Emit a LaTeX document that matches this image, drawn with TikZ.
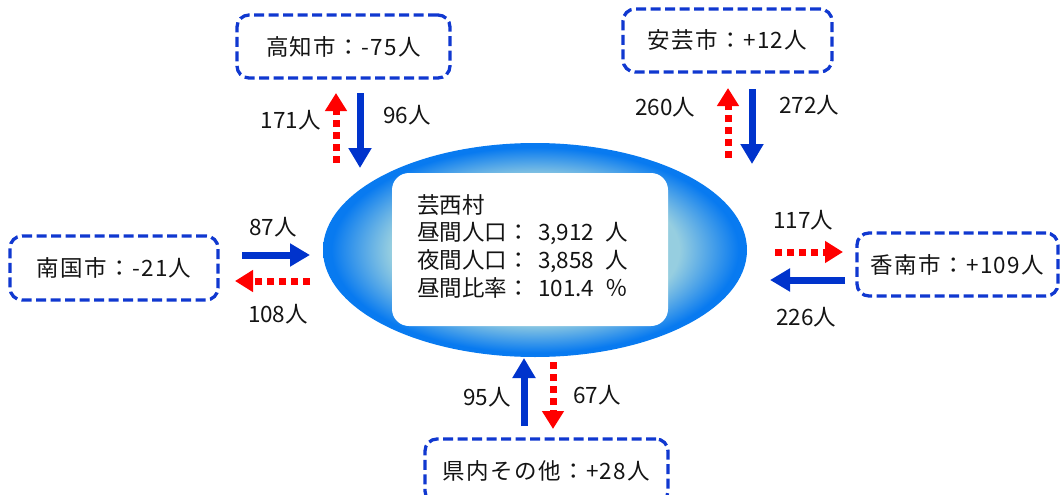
\documentclass[tikz,border=0pt]{standalone}
\usepackage{fontspec}
\setmainfont{Noto Sans CJK JP}
\newfontfamily\jp{Noto Sans CJK JP}
\newfontfamily\jpbox[LetterSpace=6]{Noto Sans CJK JP}
\usetikzlibrary{arrows.meta,shapes.geometric}
\definecolor{boxblue}{RGB}{16,56,208}
\definecolor{arrblue}{RGB}{0,51,204}
\definecolor{ellblue}{RGB}{8,122,240}
\definecolor{elllight}{RGB}{150,206,224}
\definecolor{txt}{RGB}{20,20,20}
\pgfdeclareradialshading{ellshade}{\pgfpoint{0bp}{0bp}}{color(0bp)=(elllight); color(17bp)=(elllight); color(24bp)=(ellblue); color(50bp)=(ellblue)}
\tikzset{
  citybox/.style={draw=boxblue, line width=3.3pt, dash pattern=on 10pt off 4.5pt,
    rounded corners=12pt, inner sep=0pt, text=txt, font=\jpbox\fontsize{22.5}{26}\selectfont},
  inarr/.style={draw=arrblue, line width=7pt, -{Triangle[width=22pt,length=20pt]}},
  outarr/.style={draw=red, line width=7pt, dash pattern=on 7pt off 5pt, -{Triangle[width=21pt,length=18pt]}},
  numlbl/.style={inner sep=0pt, text=txt, font=\jp\fontsize{22.5}{26}\selectfont}
}
\begin{document}
\begin{tikzpicture}[x=1pt,y=-1pt]
\useasboundingbox (0,0) rectangle (1060,495);
\clip (0,0) rectangle (1060,495);
% central ellipse and panel
\node[ellipse, shading=ellshade, minimum width=424pt, minimum height=214pt, inner sep=0pt] (vil) at (535,250) {};
\node[fill=white, rounded corners=17pt, minimum width=276pt, minimum height=153pt, inner sep=0pt] (panel) at (530,249.5) {};
\node[anchor=base west, inner sep=0pt, text=txt, font=\jp\fontsize{22.5}{27.7}\selectfont] (stats) at (417,213)
{\begin{tabular}[t]{@{}p{121pt}@{}p{67pt}@{}l@{}}
\multicolumn{3}{@{}l@{}}{芸西村}\\
昼間人口：&3,912&人\\
夜間人口：&3,858&人\\
昼間比率：&101.4&％\\
\end{tabular}};
% city boxes
\node[citybox, minimum width=213pt, minimum height=63pt] (kochi) at (343.5,46.5) {高知市：-75人};
\node[citybox, minimum width=209pt, minimum height=63pt] (aki) at (727.5,40.5) {安芸市：+12人};
\node[citybox, minimum width=208pt, minimum height=64pt] (nankoku) at (114,268) {南国市：-21人};
\node[citybox, minimum width=201pt, minimum height=63pt] (konan) at (957.5,264.5) {香南市：+109人};
\node[citybox, minimum width=243pt, minimum height=64pt] (kennai) at (546.5,471) {県内その他：+28人};
% arrow end points
\coordinate (kochiO1) at (336,163); \coordinate (kochiO2) at (336,93);
\coordinate (kochiI1) at (360,93);  \coordinate (kochiI2) at (360,168);
\coordinate (akiO1) at (728,158);   \coordinate (akiO2) at (728,88);
\coordinate (akiI1) at (752,89);    \coordinate (akiI2) at (752,164);
\coordinate (nanI1) at (242,255);   \coordinate (nanI2) at (310,255);
\coordinate (nanO1) at (310,281);   \coordinate (nanO2) at (235,281);
\coordinate (konO1) at (775,252);   \coordinate (konO2) at (843,252);
\coordinate (konI1) at (845,280);   \coordinate (konI2) at (770,280);
\coordinate (kenI1) at (524,426);   \coordinate (kenI2) at (524,358);
\coordinate (kenO1) at (553,362);   \coordinate (kenO2) at (553,429);
% arrows
\draw[outarr] (kochiO1) -- (kochiO2);
\draw[inarr] (kochiI1) -- (kochiI2);
\draw[outarr] (akiO1) -- (akiO2);
\draw[inarr] (akiI1) -- (akiI2);
\draw[inarr] (nanI1) -- (nanI2);
\draw[outarr] (nanO1) -- (nanO2);
\draw[outarr] (konO1) -- (konO2);
\draw[inarr] (konI1) -- (konI2);
\draw[inarr] (kenI1) -- (kenI2);
\draw[outarr] (kenO1) -- (kenO2);
% labels
\node[numlbl, anchor=east] (l171) at (321,120) {171人};
\node[numlbl, anchor=west] (l96) at (383,115) {96人};
\node[numlbl, anchor=west] (l260) at (635,107) {260人};
\node[numlbl, anchor=west] (l272) at (779,105) {272人};
\node[numlbl] (l87) at (273,227) {87人};
\node[numlbl] (l108) at (278,314) {108人};
\node[numlbl] (l117) at (803,220) {117人};
\node[numlbl] (l226) at (806,317) {226人};
\node[numlbl, anchor=east] (l95) at (511,397) {95人};
\node[numlbl, anchor=west] (l67) at (573,395) {67人};
\end{tikzpicture}
\end{document}
